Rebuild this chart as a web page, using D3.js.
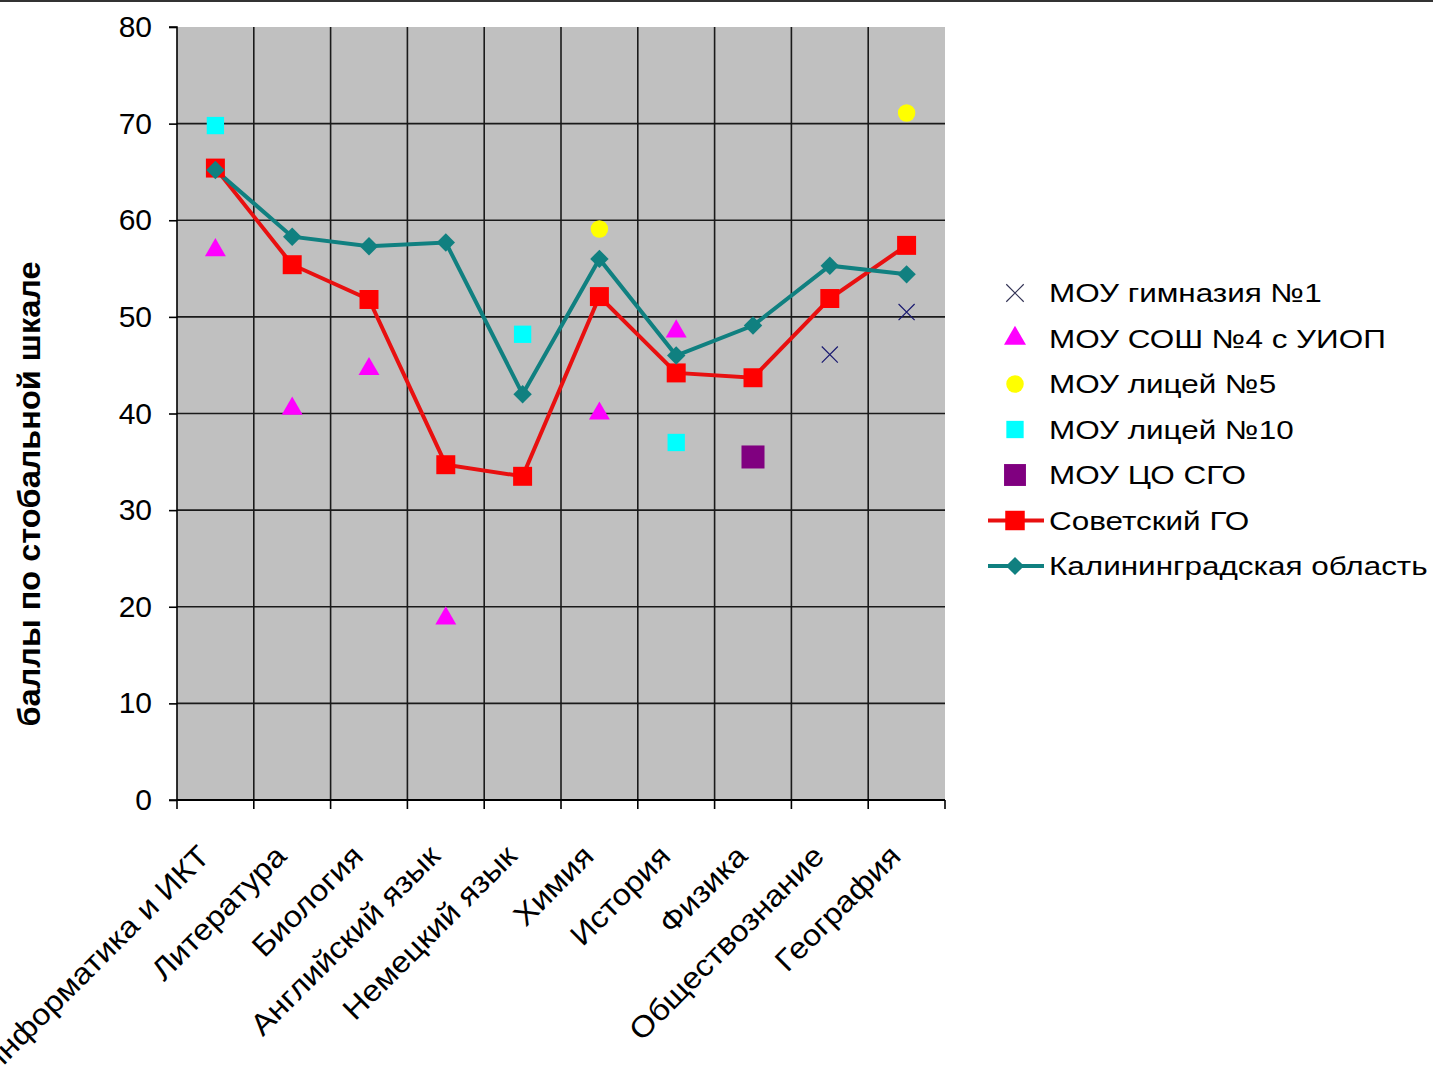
<!DOCTYPE html>
<html>
<head>
<meta charset="utf-8">
<script src="https://cdn.jsdelivr.net/npm/d3@7"></script>
<style>
  body { margin:0; background:#fff; }
  svg { display:block; font-family:"Liberation Sans", Arial, sans-serif; }
</style>
</head>
<body>
<svg class="chart"></svg>
<script>
// предметы
var subjects = ['Информатика и ИКТ','Литература','Биология','Английский язык','Немецкий язык',
                'Химия','История','Физика','Обществознание','География'];
var yTicks = [0,10,20,30,40,50,60,70,80];

// значения (null = нет данных)
var gimn1   = [null,null,null,null,null,null,null,null,46.1,50.5];
var sosh4   = [56.9,40.5,44.6,18.8,null,40.0,48.5,null,null,null];
var licey5  = [null,null,null,null,null,59.1,null,null,null,71.1];
var licey10 = [69.8,null,null,null,48.2,null,37.0,null,null,null];
var coSgo   = [null,null,null,null,null,null,null,35.5,null,null];
var sovGO   = [65.4,55.4,51.8,34.7,33.5,52.1,44.2,43.7,51.9,57.4];
var kalObl  = [65.2,58.3,57.3,57.7,42.0,56.0,46.0,49.1,55.3,54.4];

var seriesNames = ['МОУ гимназия №1','МОУ СОШ №4 с УИОП','МОУ лицей №5','МОУ лицей №10',
                   'МОУ ЦО СГО','Советский ГО','Калининградская область'];

var W = 1433, H = 1068;
var svg = d3.select('.chart').attr('width',W).attr('height',H);

// рамка сверху
svg.append('line').attr('x1',0).attr('x2',W).attr('y1',1).attr('y2',1)
  .attr('stroke','#333').attr('stroke-width',2);

var x = d3.scaleBand().domain(subjects).range([177,945]).paddingInner(0).paddingOuter(0);
var y = d3.scaleLinear().domain([0,80]).range([800,27]);
var cx = function(i){ return x(subjects[i]) + x.bandwidth()/2; };

/* фон области построения */
svg.append('rect').attr('x',177).attr('y',27).attr('width',945-177).attr('height',800-27)
  .attr('fill','#c0c0c0');

// сетка
svg.append('g').selectAll('line').data(yTicks.filter(function(d){return d>0 && d<80;})).enter()
  .append('line')
  .attr('x1',177).attr('x2',945).attr('y1',d=>y(d)).attr('y2',d=>y(d))
  .attr('stroke','#1a1a1a').attr('stroke-width',1.6);
svg.append('g').selectAll('line').data(subjects.slice(1)).enter()
  .append('line')
  .attr('x1',d=>x(d)).attr('x2',d=>x(d)).attr('y1',27).attr('y2',800)
  .attr('stroke','#1a1a1a').attr('stroke-width',1.6);

// ось Y
var yAx = d3.axisLeft(y).tickValues(yTicks).tickSize(8).tickPadding(17);
var gy = svg.append('g').attr('transform','translate(177,0)').call(yAx);
gy.select('.domain').attr('stroke','#000').attr('stroke-width',1.6).attr('d','M-8,27H0V800H-8');
gy.selectAll('.tick line').attr('stroke','#000').attr('stroke-width',1.6);
gy.selectAll('.tick text').attr('font-size','30px').attr('fill','#000')
  .attr('font-family','"Liberation Sans", Arial, sans-serif');

// ось X
var bounds = subjects.map(d=>x(d)).concat([945]);
svg.append('line').attr('x1',177).attr('x2',945).attr('y1',800).attr('y2',800)
  .attr('stroke','#000').attr('stroke-width',2);
svg.append('g').selectAll('line').data(bounds).enter().append('line')
  .attr('x1',d=>d).attr('x2',d=>d).attr('y1',800).attr('y2',809)
  .attr('stroke','#000').attr('stroke-width',1.6);
svg.append('g').selectAll('text').data(subjects).enter().append('text')
  .attr('text-anchor','end')
  .attr('font-size','30px')
  .attr('transform',(d,i)=>'translate('+(cx(i)-4)+',858) rotate(-45) scale(1.09,1)')
  .text(d=>d);

// подпись оси Y
svg.append('text')
  .attr('transform','translate(40,494) rotate(-90)')
  .attr('text-anchor','middle')
  .attr('font-size','31px')
  .attr('font-weight','bold')
  .attr('textLength',465)
  .attr('lengthAdjust','spacingAndGlyphs')
  .text('баллы по стобальной шкале');

// линии
var line = d3.line().defined(d=>d!=null).x((d,i)=>cx(i)).y(d=>y(d));
svg.append('path').datum(sovGO).attr('d',line).attr('fill','none')
  .attr('stroke','#e81010').attr('stroke-width',4);
svg.append('path').datum(kalObl).attr('d',line).attr('fill','none')
  .attr('stroke','#108080').attr('stroke-width',4);

function pts(arr){ return arr.map((v,i)=>({v:v,i:i})).filter(d=>d.v!=null); }

var sym = d3.symbol();
// маркеры
function markers(arr, type, size, fill, stroke, sw, rot){
  svg.append('g').selectAll('path').data(pts(arr)).enter().append('path')
    .attr('transform',d=>'translate('+cx(d.i)+','+y(d.v)+')'+(rot?' rotate('+rot+')':''))
    .attr('d',sym.type(type).size(size)())
    .attr('fill',fill).attr('stroke',stroke||'none').attr('stroke-width',sw||0);
}
markers(sovGO, d3.symbolSquare, 360, '#ff0000');
markers(kalObl, d3.symbolSquare, 170, '#108080', null, 0, 45);
markers(sosh4, d3.symbolTriangle, 190, '#ff00ff');
markers(licey5, d3.symbolCircle, 240, '#ffff00');
markers(licey10, d3.symbolSquare, 300, '#00ffff');
markers(coSgo, d3.symbolSquare, 530, '#800080');
markers(gimn1, d3.symbolX, 170, 'none', '#1a1a70', 1.2);

// легенда
var legY = d3.scalePoint().domain(seriesNames).range([293,566]);
var leg = svg.append('g');
leg.selectAll('text').data(seriesNames).enter().append('text')
  .attr('transform',d=>'translate(1049,'+legY(d)+') scale(1.21,1)')
  .attr('dy','0.36em')
  .attr('font-size','26px').text(d=>d);
var legSym = [
  {type:d3.symbolX,size:200,fill:'none',stroke:'#333355',sw:1.2},
  {type:d3.symbolTriangle,size:210,fill:'#ff00ff'},
  {type:d3.symbolCircle,size:240,fill:'#ffff00'},
  {type:d3.symbolSquare,size:300,fill:'#00ffff'},
  {type:d3.symbolSquare,size:480,fill:'#800080'},
  {type:d3.symbolSquare,size:380,fill:'#ff0000',line:'#e81010'},
  {type:d3.symbolSquare,size:165,fill:'#108080',line:'#108080',rot:45}
];
legSym.forEach(function(s,i){
  var yy = legY(seriesNames[i]);
  if(s.line){
    leg.append('line').attr('x1',988).attr('x2',1044).attr('y1',yy).attr('y2',yy)
      .attr('stroke',s.line).attr('stroke-width',4);
  }
  leg.append('path').attr('transform','translate(1015,'+yy+')'+(s.rot?' rotate(45)':''))
    .attr('d',d3.symbol().type(s.type).size(s.size)())
    .attr('fill',s.fill).attr('stroke',s.stroke||'none').attr('stroke-width',s.sw||0);
});
</script>
</body>
</html>
